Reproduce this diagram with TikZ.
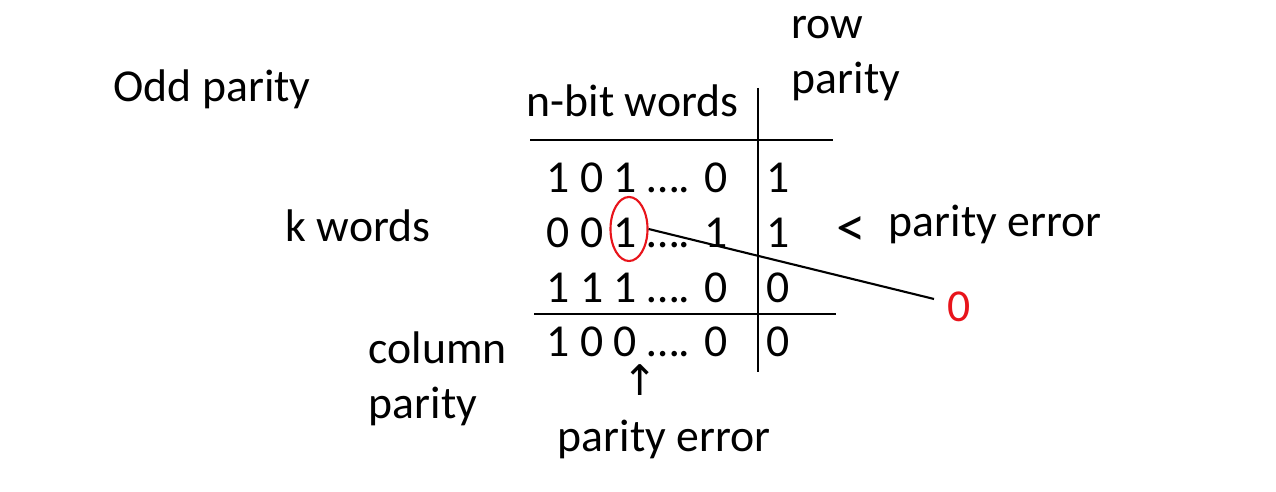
\documentclass[tikz,border=0pt]{standalone}
\usepackage{fontspec}
\setmainfont{Carlito}
\newfontfamily\arrowfont{DejaVu Sans}
\usepackage{tikz}
\usetikzlibrary{shapes.geometric}
\definecolor{parityRed}{HTML}{E8141B}

\begin{document}
\begin{tikzpicture}[x=0.01cm, y=-0.01cm,
        txt/.style={anchor=base west, inner sep=0pt, font=\fontsize{13}{15}\selectfont},
        rule/.style={line width=0.6pt},
        errmark/.style={draw=parityRed, line width=0.6pt, ellipse, minimum width=0.37cm, minimum height=0.64cm, inner sep=0pt}
    ]
        \useasboundingbox (0,0) rectangle (1276,492);

        \node[txt] (odd) at (113,102) {Odd parity};
        \node[txt] (rowA) at (791,39) {row};
        \node[txt] (rowB) at (791,94) {parity};
        \node[txt] (words) at (526,117) {n-bit words};
        \node[txt] (kwords) at (285,242) {k words};
        \node[txt] (colA) at (368,364) {column};
        \node[txt] (colB) at (368,419) {parity};

        % data bits and row parity
        \node[txt] (r1) at (546,193) {1 0 1 …. 0};
        \node[txt] (r2) at (546,248) {0 0 1 …. 1};
        \node[txt] (r3) at (546,303) {1 1 1 …. 0};
        \node[txt] (r4) at (546,357) {1 0 0 …. 0};
        \node[txt] (p1) at (766,193) {1};
        \node[txt] (p2) at (766,248) {1};
        \node[txt] (p3) at (766,303) {0};
        \node[txt] (p4) at (766,357) {0};

        \draw[rule] (758,88) -- (758,372);
        \draw[rule] (530,140) -- (833,140);
        \draw[rule] (534,314) -- (836,314);

        % error markers
        \node[errmark] (bad) at (629,229) {};
        \node[txt, text=parityRed] (zero) at (947,322) {0};
        \draw[rule] (bad.east) -- ([xshift=-0.13cm,yshift=0.23cm]zero.base west);

        \node[txt] (lt) at (836,247) {\scalebox{1.3}[1.25]{<}};
        \node[txt] (errR) at (888,237) {parity error};
        \node[anchor=base, inner sep=0pt, font=\arrowfont\fontsize{12}{14}\selectfont] (up) at (640,396) {↑};
        \node[txt] (errB) at (557,452) {parity error};
    \end{tikzpicture}
\end{document}
